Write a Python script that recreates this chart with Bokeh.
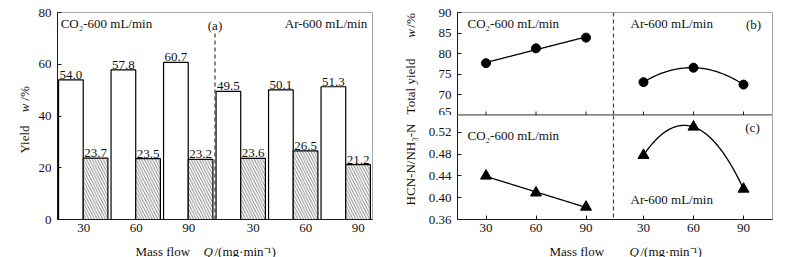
import numpy as np
from bokeh.plotting import figure
from bokeh.models import ColumnDataSource, FixedTicker, Label, Span, PrintfTickFormatter, Range1d
from bokeh.layouts import row, column
from bokeh.embed import file_html
from bokeh.resources import INLINE
from bokeh.core.properties import value

# ---------------- data ----------------
flows = ["30", "60", "90"]
gases = ["CO2", "Ar"]
# panel (a): yields, w/%
yield_white = [54.0, 57.8, 60.7, 49.5, 50.1, 51.3]
yield_hatched = [23.7, 23.5, 23.2, 23.6, 26.5, 21.2]
# panel (b): total yield, w/%
total_co2 = [77.7, 81.3, 83.9]
total_ar = [73.1, 76.6, 72.5]
# panel (c): HCN-N/NH3-N
ratio_co2 = [0.440, 0.409, 0.383]
ratio_ar = [0.478, 0.530, 0.416]

FONT = "Liberation Serif"
FS = "13px"
AX = "#1a1a1a"
OUT = "#a8a8a8"
TXT = "#111111"


def style(p):
    p.background_fill_color = "white"
    p.border_fill_color = "white"
    p.outline_line_color = OUT
    p.outline_line_width = 1
    p.xgrid.visible = False
    p.ygrid.visible = False
    for ax in (p.xaxis[0], p.yaxis[0]):
        ax.axis_line_color = AX
        ax.axis_line_width = 1
        ax.major_tick_line_color = AX
        ax.minor_tick_line_color = None
        ax.major_tick_out = 0
        ax.major_tick_in = 4
        ax.major_label_text_font = FONT
        ax.major_label_text_font_size = FS
        ax.major_label_text_color = TXT


def txt(p, x, y, s, align="left", units="data", italic=False, angle=0.0, baseline="middle"):
    p.add_layout(Label(x=x, y=y, x_units=units, y_units=units, text=s,
                       text_font=FONT, text_font_size=FS, text_color=TXT,
                       text_font_style="italic" if italic else "normal",
                       text_align=align, text_baseline=baseline, angle=angle))


def strip(w, h, top=0, bottom=0):
    s = figure(width=w, height=h, x_range=Range1d(0, 1), y_range=Range1d(0, 1),
               x_axis_location=None, y_axis_location=None,
               output_backend="svg", toolbar_location=None,
               min_border_left=0, min_border_right=0, min_border_top=top, min_border_bottom=bottom)
    s.grid.visible = False
    s.outline_line_color = None
    s.background_fill_color = "white"
    s.border_fill_color = "white"
    return s


ROW_H = 238
TOP = 12
BOT = 19
FRAME_BOTTOM = ROW_H - BOT  # page y of the plot frames' bottom edge

# ---------------- panel (a) ----------------
pa = figure(width=365, height=ROW_H, x_range=Range1d(0, 6), y_range=Range1d(0, 80),
            output_backend="svg", toolbar_location=None,
            min_border_left=22, min_border_right=28, min_border_top=TOP, min_border_bottom=BOT)
style(pa)
pa.yaxis.ticker = FixedTicker(ticks=[0, 20, 40, 60, 80])
pa.yaxis.major_label_standoff = 6

grp = np.arange(len(yield_white))
tick_off = [0.5] * len(flows) + [0.73] * len(flows)
a_ticks = [float(g + o) for g, o in zip(grp, tick_off)]
a_labels = flows * len(gases)
pa.xaxis.ticker = FixedTicker(ticks=a_ticks)
pa.xaxis.major_label_overrides = {t: l for t, l in zip(a_ticks, a_labels)}
pa.xaxis.major_tick_in = 0
pa.xaxis.major_label_standoff = 4

src_a = ColumnDataSource(dict(
    xw=grp + 0.255, xh=grp + 0.725, w=yield_white, h=yield_hatched,
    lw=[f"{v:.1f}" for v in yield_white], lh=[f"{v:.1f}" for v in yield_hatched]))
pa.vbar(x="xw", top="w", width=0.47, source=src_a, fill_color="white",
        line_color="black", line_width=1.2)
pa.vbar(x="xh", top="h", width=0.47, source=src_a, fill_color="white",
        line_color="black", line_width=1.2, hatch_pattern="\\", hatch_color="#333333",
        hatch_scale=5.5, hatch_weight=0.6)
for xc, yc, lc in (("xw", "w", "lw"), ("xh", "h", "lh")):
    pa.text(x=xc, y=yc, text=lc, source=src_a, text_align="center", text_baseline="bottom",
            y_offset=-1, text_font=value(FONT), text_font_size=value(FS), text_color=TXT)

pa.segment(x0=[3.0], y0=[0], x1=[3.0], y1=[72], line_dash="4 3", line_color="#444444", line_width=1.3)
txt(pa, 0.06, 75.7, "CO₂-600 mL/min")
txt(pa, 5.9, 75.7, "Ar-600 mL/min", align="right")
txt(pa, 3.0, 74.9, "(a)", align="center")

# y title strip for (a) (frame aligned with the plot frames)
ya = strip(35, ROW_H, TOP, BOT)
for yc, s, it in ((139, "Yield", False), (107.5, "w", True), (93, "/%", False)):
    txt(ya, 23.5, FRAME_BOTTOM - yc, s, units="screen", angle=np.pi / 2, align="center",
        baseline="middle", italic=it)

# ---------------- panels (b) and (c) ----------------
pos = [1.0, 2.0, 3.0, 4.15, 5.15, 6.15]
pos_co2, pos_ar = pos[:3], pos[3:]
xr = Range1d(0.43, 6.73)
SEP = 3.55


def fit(xs, ys, deg):
    c = np.polyfit(xs, ys, deg)
    xx = np.linspace(xs[0], xs[-1], 80)
    return xx, np.polyval(c, xx)


HB = 115
pb = figure(width=369, height=HB, x_range=xr, y_range=Range1d(65, 90),
            x_axis_location=None,
            output_backend="svg", toolbar_location=None,
            min_border_left=35, min_border_right=19, min_border_top=TOP, min_border_bottom=0)
pb.background_fill_color = "white"
pb.border_fill_color = "white"
pb.outline_line_color = OUT
pb.grid.visible = False
ay = pb.yaxis[0]
ay.axis_line_color = AX
ay.major_tick_line_color = AX
ay.minor_tick_line_color = None
ay.major_tick_out = 0
ay.major_tick_in = 4
ay.major_label_text_font = FONT
ay.major_label_text_font_size = FS
ay.major_label_text_color = TXT
ay.ticker = FixedTicker(ticks=[65, 70, 75, 80, 85, 90])
ay.major_label_standoff = 6
# bottom edge of (b) with inward ticks
pb.add_layout(Span(location=65, dimension="width", line_color=AX, line_width=1.5))
pb.scatter(pos, [65] * len(pos), marker="dash", angle=np.pi / 2, size=8, line_color=AX, line_width=1)
pb.add_layout(Span(location=SEP, dimension="height", line_dash="4 3", line_color="#444444", line_width=1.2))
for xs, ys, deg in ((pos_co2, total_co2, 1), (pos_ar, total_ar, 2)):
    fx, fy = fit(xs, ys, deg)
    pb.line(fx, fy, line_color="black", line_width=1.3)
    pb.scatter(xs, ys, marker="circle", size=9, fill_color="black", line_color="black")
txt(pb, 0.63, 87.3, "CO₂-600 mL/min")
txt(pb, 3.89, 87.3, "Ar-600 mL/min")
txt(pb, 6.35, 87.1, "(b)", align="center")

pc = figure(width=369, height=ROW_H - HB, x_range=xr, y_range=Range1d(0.36, 0.551),
            output_backend="svg", toolbar_location=None,
            min_border_left=35, min_border_right=19, min_border_top=0, min_border_bottom=BOT)
style(pc)
pc.yaxis.ticker = FixedTicker(ticks=[0.36, 0.40, 0.44, 0.48, 0.52])
pc.yaxis.formatter = PrintfTickFormatter(format="%.2f")
pc.yaxis.major_label_standoff = 6
pc.xaxis.ticker = FixedTicker(ticks=pos)
pc.xaxis.major_label_overrides = {t: l for t, l in zip(pos, flows * len(gases))}
pc.xaxis.major_label_standoff = 4
pc.add_layout(Span(location=SEP, dimension="height", line_dash="4 3", line_color="#444444", line_width=1.2))
for xs, ys, deg in ((pos_co2, ratio_co2, 1), (pos_ar, ratio_ar, 2)):
    fx, fy = fit(xs, ys, deg)
    pc.line(fx, fy, line_color="black", line_width=1.3)
    pc.scatter(xs, ys, marker="triangle", size=11, fill_color="black", line_color="black")
txt(pc, 0.63, 0.5145, "CO₂-600 mL/min")
txt(pc, 3.89, 0.396, "Ar-600 mL/min")
txt(pc, 6.33, 0.529, "(c)", align="center")

# y title strip for (b)/(c)
yb = strip(22, ROW_H, TOP, BOT)
for yc, s, it in ((86, "Total yield", False), (33, "w", True), (20, "/%", False),
                  (164, "HCN-N/NH₃-N", False)):
    txt(yb, 10, FRAME_BOTTOM - yc, s, units="screen", angle=np.pi / 2, align="center",
        baseline="middle", italic=it)

# x title strip
xs_strip = strip(791, 257 - ROW_H)
for x0, s, it in ((135, "Mass flow", False), (203, "Q", True), (214, "/(mg·min⁻¹)", False),
                  (549, "Mass flow", False), (629, "Q", True), (640, "/(mg·min⁻¹)", False)):
    txt(xs_strip, x0, 6, s, units="screen", italic=it, baseline="alphabetic")

layout = column(row(ya, pa, yb, column(pb, pc)), xs_strip)
open("out.html", "w").write(file_html(layout, INLINE))
